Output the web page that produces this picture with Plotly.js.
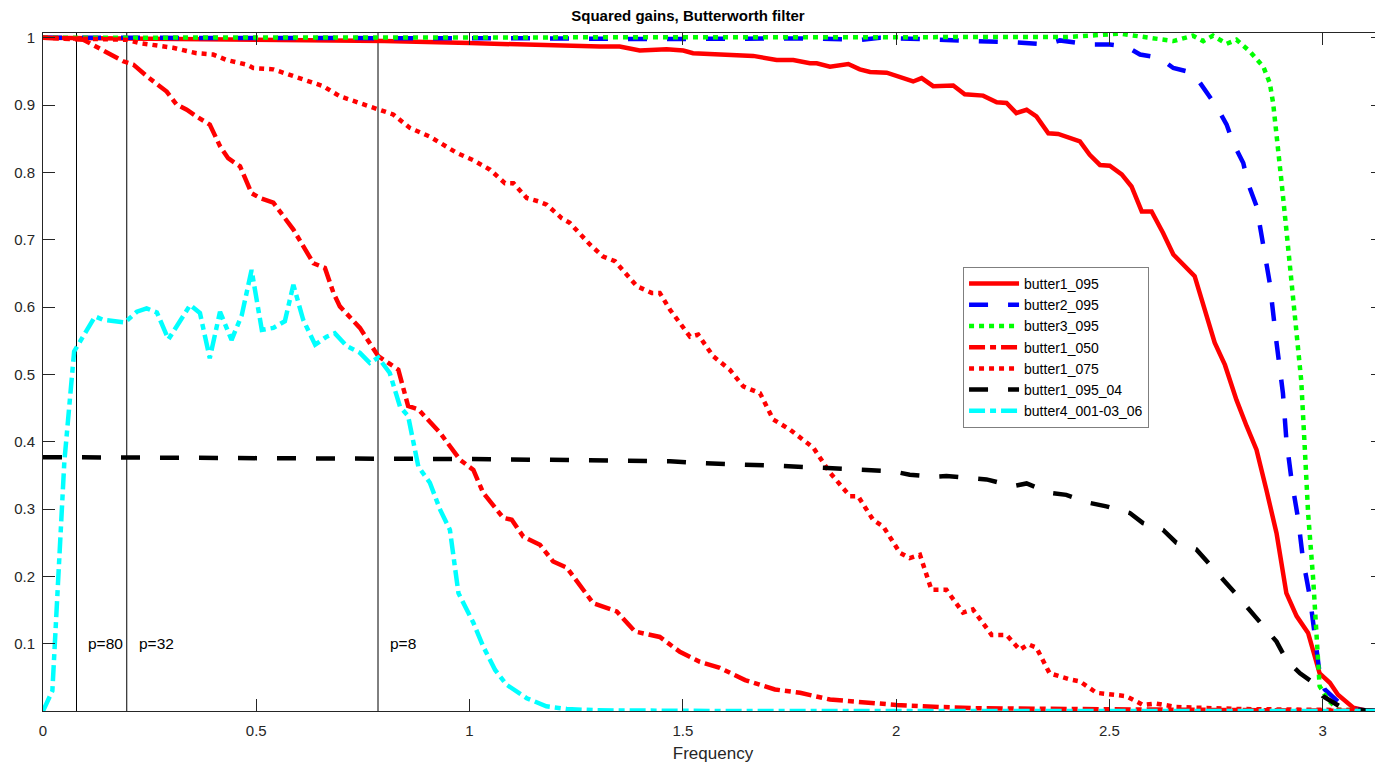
<!DOCTYPE html>
<html>
<head>
<meta charset="utf-8">
<script src="https://cdn.plot.ly/plotly-3.0.1.min.js"></script>
<style>
html,body{margin:0;padding:0;overflow:hidden;background:#fff;}
#chart{width:1390px;height:766px;}
</style>
</head>
<body>
<div id="chart"></div>
<script>
// ---- data ----
const seriesNames = ["butter1_095","butter2_095","butter3_095","butter1_050","butter1_075","butter1_095_04","butter4_001-03_06"];

const b1_095_x = [0,0.3,0.6,0.8,1.0,1.1,1.2,1.306,1.352,1.399,1.462,1.501,1.524,1.595,1.665,1.72,1.759,1.798,1.814,1.845,1.888,1.915,1.939,1.978,2.04,2.06,2.087,2.134,2.161,2.204,2.236,2.259,2.282,2.306,2.329,2.357,2.38,2.431,2.454,2.478,2.501,2.529,2.552,2.576,2.599,2.626,2.65,2.7,2.72,2.747,2.771,2.79,2.798,2.822,2.845,2.868,2.892,2.915,2.939,2.966,2.993,3.017,3.036,3.072,3.1,3.1416];
const b1_095_y = [1.0,0.998,0.997,0.995,0.992,0.99,0.988,0.987,0.987,0.981,0.983,0.981,0.977,0.975,0.973,0.967,0.967,0.962,0.962,0.957,0.961,0.953,0.949,0.948,0.935,0.94,0.928,0.929,0.916,0.914,0.904,0.903,0.888,0.893,0.883,0.858,0.857,0.846,0.826,0.811,0.81,0.797,0.779,0.742,0.742,0.71,0.678,0.646,0.606,0.547,0.514,0.477,0.462,0.423,0.388,0.329,0.264,0.175,0.141,0.116,0.056,0.042,0.024,0.005,0.001,0];

const b2_095_x = [0,0.2,0.4,0.6,0.8,1.0,1.2,1.4,1.6,1.8,1.92,1.962,2.009,2.11,2.18,2.282,2.353,2.384,2.454,2.501,2.54,2.572,2.618,2.65,2.696,2.724,2.751,2.775,2.79,2.814,2.825,2.845,2.861,2.876,2.892,2.907,2.915,2.927,2.943,2.954,2.97,2.982,2.993,3.005,3.036,3.07,3.1416];
const b2_095_y = [1.0,1.0,0.999,1.0,0.999,1.0,0.999,0.998,0.999,0.999,0.997,1.0,0.999,0.997,0.996,0.993,0.99,0.996,0.99,0.99,0.987,0.975,0.97,0.955,0.948,0.923,0.898,0.871,0.844,0.814,0.784,0.75,0.695,0.636,0.547,0.472,0.403,0.344,0.284,0.225,0.17,0.116,0.056,0.032,0.014,0.002,0];

const b3_095_x = [0,0.5,1.0,1.5,1.8,2.0,2.2,2.3,2.4,2.525,2.6,2.65,2.696,2.72,2.743,2.775,2.798,2.829,2.861,2.876,2.884,2.896,2.904,2.915,2.927,2.939,2.95,2.958,2.966,2.978,2.986,2.993,3.012,3.036,3.1416];
const b3_095_y = [1.0,1.0,1.0,1.0,1.001,1.0,1.001,1.0,1.001,1.006,1.0,0.995,1.003,0.995,1.003,0.991,0.997,0.98,0.957,0.933,0.903,0.839,0.784,0.715,0.641,0.566,0.49,0.393,0.294,0.195,0.096,0.037,0.017,0.002,0];

const b1_050_x = [0,0.049,0.0945,0.188,0.212,0.243,0.263,0.29,0.313,0.337,0.36,0.391,0.415,0.434,0.462,0.489,0.509,0.54,0.587,0.634,0.661,0.681,0.696,0.743,0.786,0.833,0.856,0.88,0.931,0.978,1.009,1.032,1.079,1.099,1.126,1.165,1.196,1.228,1.29,1.345,1.388,1.446,1.493,1.54,1.587,1.646,1.716,1.775,1.845,1.939,2.0,2.1,2.2,2.4,2.6,2.8,3.0,3.1416];
const b1_050_y = [1.0,0.999,0.997,0.965,0.96,0.943,0.933,0.92,0.901,0.893,0.883,0.871,0.839,0.821,0.809,0.769,0.762,0.755,0.715,0.665,0.658,0.621,0.601,0.569,0.527,0.507,0.453,0.448,0.413,0.373,0.358,0.324,0.287,0.284,0.259,0.247,0.222,0.213,0.16,0.148,0.118,0.11,0.088,0.073,0.064,0.046,0.032,0.027,0.017,0.012,0.009,0.006,0.004,0.003,0.002,0.001,0.0005,0];

const b1_075_x = [0,0.1,0.195,0.227,0.305,0.36,0.399,0.43,0.478,0.493,0.54,0.587,0.634,0.657,0.696,0.743,0.782,0.821,0.86,0.907,0.97,1.009,1.048,1.083,1.103,1.134,1.161,1.181,1.216,1.235,1.282,1.313,1.341,1.392,1.427,1.446,1.47,1.517,1.536,1.571,1.61,1.642,1.681,1.712,1.751,1.806,1.845,1.892,1.911,1.946,1.97,2.009,2.032,2.056,2.083,2.118,2.157,2.18,2.224,2.259,2.29,2.31,2.329,2.36,2.407,2.431,2.47,2.509,2.54,2.579,2.61,2.657,2.712,2.8,2.95,3.1416];
const b1_075_y = [1.0,0.999,0.997,0.992,0.985,0.977,0.975,0.967,0.96,0.955,0.953,0.943,0.933,0.928,0.913,0.903,0.893,0.886,0.866,0.853,0.829,0.818,0.804,0.784,0.784,0.762,0.757,0.752,0.732,0.725,0.693,0.675,0.668,0.631,0.621,0.621,0.596,0.556,0.559,0.527,0.507,0.482,0.472,0.433,0.418,0.391,0.354,0.319,0.319,0.284,0.274,0.235,0.227,0.232,0.18,0.18,0.146,0.151,0.113,0.113,0.091,0.099,0.094,0.056,0.047,0.044,0.027,0.024,0.022,0.009,0.011,0.006,0.0045,0.003,0.002,0.001];

const b1_095_04_x = [0,0.5,1.048,1.47,1.548,1.735,1.829,1.907,1.993,2.032,2.087,2.118,2.177,2.212,2.275,2.306,2.36,2.399,2.454,2.493,2.548,2.579,2.626,2.657,2.704,2.735,2.767,2.798,2.829,2.861,2.892,2.915,2.947,2.978,3.001,3.04,3.064,3.1,3.1416];
const b1_095_04_y = [0.377,0.376,0.374,0.371,0.368,0.364,0.361,0.358,0.356,0.351,0.348,0.349,0.345,0.344,0.334,0.338,0.324,0.321,0.309,0.304,0.294,0.279,0.269,0.25,0.24,0.217,0.195,0.173,0.15,0.128,0.103,0.076,0.056,0.042,0.022,0.007,0.003,0.001,0];

const b4_x = [0,0.022,0.05,0.073,0.122,0.141,0.192,0.22,0.243,0.267,0.294,0.345,0.368,0.391,0.415,0.442,0.466,0.489,0.513,0.54,0.567,0.587,0.61,0.638,0.665,0.684,0.712,0.743,0.766,0.786,0.813,0.837,0.856,0.88,0.907,0.931,0.954,0.974,1.009,1.032,1.06,1.087,1.134,1.18,1.228,1.3,1.6,2.0,2.4,2.8,3.1416];
const b4_y = [0,0.03,0.37,0.534,0.586,0.581,0.577,0.593,0.598,0.592,0.552,0.603,0.591,0.524,0.593,0.551,0.588,0.655,0.566,0.569,0.579,0.633,0.581,0.544,0.556,0.561,0.542,0.532,0.517,0.525,0.502,0.452,0.438,0.363,0.339,0.299,0.269,0.175,0.131,0.096,0.061,0.039,0.019,0.007,0.003,0.001,0,0,0,0,0];

const periods = [80, 32, 8];
const periodLabels = ["p=80", "p=32", "p=8"];
const xTicks = [0, 0.5, 1, 1.5, 2, 2.5, 3];
const xTickText = ["0", "0.5", "1", "1.5", "2", "2.5", "3"];
const yTicks = [0.1, 0.2, 0.3, 0.4, 0.5, 0.6, 0.7, 0.8, 0.9, 1];
const yTickText = ["0.1", "0.2", "0.3", "0.4", "0.5", "0.6", "0.7", "0.8", "0.9", "1"];

// ---- styles ----
const FONT = "Arial, Liberation Sans, Helvetica, sans-serif";
const W = 4.5;
const DASHED = "19px,20px";
const DOTTED = "5px,5px";
const DASHDOT = "16px,5px,6px,5px";

const traces = [
  {x: b1_095_x, y: b1_095_y, name: seriesNames[0], line: {color: "#FF0000", width: W, dash: "solid"}},
  {x: b2_095_x, y: b2_095_y, name: seriesNames[1], line: {color: "#0000FF", width: W, dash: DASHED}},
  {x: b3_095_x, y: b3_095_y, name: seriesNames[2], line: {color: "#00FF00", width: W, dash: DOTTED}},
  {x: b1_050_x, y: b1_050_y, name: seriesNames[3], line: {color: "#FF0000", width: W, dash: DASHDOT}},
  {x: b1_075_x, y: b1_075_y, name: seriesNames[4], line: {color: "#FF0000", width: W, dash: DOTTED}},
  {x: b1_095_04_x, y: b1_095_04_y, name: seriesNames[5], line: {color: "#000000", width: W, dash: DASHED}},
  {x: b4_x, y: b4_y, name: seriesNames[6], line: {color: "#00FFFF", width: W, dash: DASHDOT}}
].map(t => Object.assign({type: "scatter", mode: "lines", hoverinfo: "x+y+name"}, t));

const freqs = periods.map(p => 2 * Math.PI / p);
const shapes = freqs.map(f => ({
  type: "line", xref: "x", yref: "paper", x0: f, x1: f, y0: 0, y1: 1,
  line: {color: "#000000", width: 1}, layer: "below"
}));
const annotations = freqs.map((f, i) => ({
  xref: "x", yref: "y", x: f + 0.023, y: 0.1, text: periodLabels[i],
  showarrow: false, xanchor: "left", yanchor: "middle",
  font: {family: FONT, size: 15.5, color: "#000000"}
}));

const axisFont = {family: FONT, size: 15, color: "#262626"};

const layout = {
  width: 1390, height: 766,
  margin: {l: 43, r: 7, t: 33, b: 55, pad: 0},
  paper_bgcolor: "#ffffff", plot_bgcolor: "#ffffff",
  title: {
    text: "<b>Squared gains, Butterworth filter</b>",
    font: {family: FONT, size: 15, color: "#000000"},
    x: 0.4813, xref: "paper", xanchor: "center",
    y: 0.979, yref: "container", yanchor: "middle"
  },
  showlegend: true,
  legend: {
    x: 0.6866, y: 0.6549, xanchor: "left", yanchor: "top",
    bgcolor: "#ffffff", bordercolor: "#7f7f7f", borderwidth: 1,
    font: {family: FONT, size: 14, color: "#000000"},
    itemwidth: 50, tracegroupgap: 0
  },
  xaxis: {
    range: [0, Math.PI], tickvals: xTicks, ticktext: xTickText,
    ticks: "inside", ticklen: 12, tickwidth: 1, tickcolor: "#262626",
    showline: true, linecolor: "#262626", linewidth: 1, mirror: "ticks",
    showgrid: false, zeroline: false, tickfont: axisFont, ticklabelstandoff: 6,
    title: {text: "Frequency", font: {family: FONT, size: 17, color: "#262626"}, standoff: 9}
  },
  yaxis: {
    range: [0, 1.007], tickvals: yTicks, ticktext: yTickText,
    ticks: "inside", ticklen: 12, tickwidth: 1, tickcolor: "#262626",
    showline: true, linecolor: "#262626", linewidth: 1, mirror: "ticks",
    showgrid: false, zeroline: false, tickfont: axisFont, ticklabelstandoff: 4
  },
  shapes: shapes,
  annotations: annotations
};

Plotly.newPlot("chart", traces, layout, {displayModeBar: false, staticPlot: false});
</script>
</body>
</html>
